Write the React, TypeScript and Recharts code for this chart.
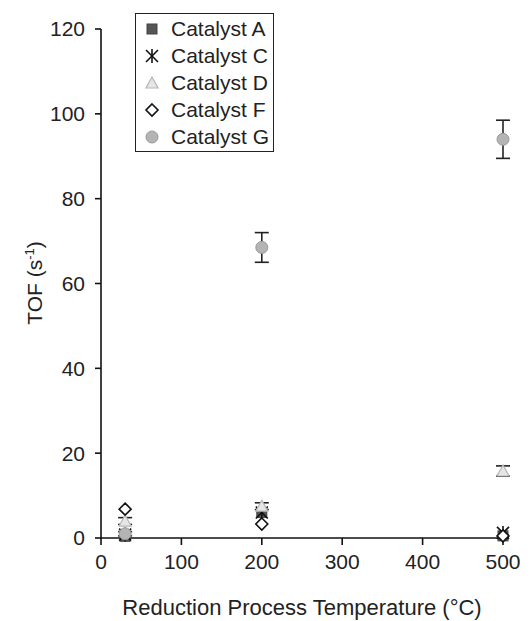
import React from "react"
import { ScatterChart, Scatter, XAxis, YAxis, ErrorBar, Label } from "recharts"

// reduction temperatures (°C)
const temps = [30, 200, 500]

// TOF values (s^-1) per catalyst
const catA = [0.4, 6, 0.5]
const catC = [0.8, 6, 1.2]
const catD = [4, 7.5, 15.8]
const catDErr = [0.8, 0.8, 1.2]
const catF = [6.8, 3.3, 0.5]
const catG = [1, 68.5, 94]
const catGErr = [0.5, 3.5, 4.5]

const xTicks = [0, 100, 200, 300, 400, 500]
const yTicks = [0, 20, 40, 60, 80, 100, 120]

const FONT = "'Liberation Sans', Arial, sans-serif"

const toPoints = (vals: number[], errs?: number[]) =>
  temps.map((t, i) => ({ x: t, y: vals[i], err: errs ? errs[i] : 0 }))

const series = [
  { name: "Catalyst A", data: toPoints(catA), kind: "square" },
  { name: "Catalyst C", data: toPoints(catC), kind: "asterisk" },
  { name: "Catalyst D", data: toPoints(catD, catDErr), kind: "triangle" },
  { name: "Catalyst F", data: toPoints(catF), kind: "diamond" },
  { name: "Catalyst G", data: toPoints(catG, catGErr), kind: "circle" },
]

function Marker({ kind, cx, cy }: { kind: string; cx: number; cy: number }) {
  if (cx == null || cy == null) return null
  switch (kind) {
    case "square":
      return <rect x={cx - 5} y={cy - 5} width={10} height={10} fill="#555" stroke="#444" />
    case "asterisk":
      return (
        <g stroke="#111" strokeWidth={1.6}>
          <line x1={cx} y1={cy - 7} x2={cx} y2={cy + 7} />
          <line x1={cx - 6} y1={cy - 6} x2={cx + 6} y2={cy + 6} />
          <line x1={cx + 6} y1={cy - 6} x2={cx - 6} y2={cy + 6} />
        </g>
      )
    case "triangle":
      return (
        <polygon
          points={`${cx},${cy - 6} ${cx + 6},${cy + 5} ${cx - 6},${cy + 5}`}
          fill="#e6e6e6"
          stroke="#b5b5b5"
          strokeWidth={1.2}
        />
      )
    case "diamond":
      return (
        <polygon
          points={`${cx},${cy - 6} ${cx + 6},${cy} ${cx},${cy + 6} ${cx - 6},${cy}`}
          fill="#fff"
          stroke="#111"
          strokeWidth={1.6}
        />
      )
    default:
      return <circle cx={cx} cy={cy} r={6} fill="#b4b4b4" stroke="#999" strokeWidth={1} />
  }
}

function LegendBox() {
  return (
    <div
      style={{
        position: "absolute",
        left: 135,
        top: 13,
        border: "1.5px solid #222",
        width: 139,
        height: 139,
        background: "#fff",
        fontFamily: FONT,
        fontSize: 21,
        color: "#222",
        boxSizing: "border-box",
        paddingTop: 1,
        whiteSpace: "nowrap",
      }}
    >
      {series.map((s) => (
        <div key={s.name} style={{ display: "flex", alignItems: "center", height: 27 }}>
          <svg width={35} height={20} style={{ flexShrink: 0 }}>
            <Marker kind={s.kind} cx={16} cy={10} />
          </svg>
          <span>{s.name}</span>
        </div>
      ))}
    </div>
  )
}

function YLabel() {
  return (
    <text
      x={42}
      y={283}
      transform="rotate(-90 42 283)"
      textAnchor="middle"
      fontFamily={FONT}
      fontSize={21}
      fill="#222"
    >
      TOF (s
      <tspan dy={-8} fontSize={13}>-1</tspan>
      <tspan dy={8}>)</tspan>
    </text>
  )
}

export default function App() {
  const tickStyle = { fontFamily: FONT, fontSize: 21, fill: "#222" }
  return (
    <div style={{ position: "absolute", left: 0, top: 0, width: 530, height: 621, background: "#fff" }}>
      <ScatterChart width={530} height={621} margin={{ top: 29, right: 27, bottom: 0, left: 0 }}>
        <XAxis
          type="number"
          dataKey="x"
          domain={[0, 500]}
          ticks={xTicks}
          interval={0}
          height={83}
          tickSize={7}
          tickMargin={9}
          stroke="#111"
          strokeWidth={1.6}
          tick={tickStyle}
        >
          <Label
            value="Reduction Process Temperature (°C)"
            position="insideBottom"
            offset={6}
            style={{ fontFamily: FONT, fontSize: 22, fill: "#222" }}
          />
        </XAxis>
        <YAxis
          type="number"
          dataKey="y"
          domain={[0, 120]}
          ticks={yTicks}
          interval={0}
          width={101}
          tickSize={6}
          tickMargin={10}
          stroke="#111"
          strokeWidth={1.6}
          tick={tickStyle}
        >
          <Label content={<YLabel />} />
        </YAxis>
        {series.map((s) => (
          <Scatter
            key={s.name}
            name={s.name}
            data={s.data}
            isAnimationActive={false}
            shape={(p: any) => <Marker kind={s.kind} cx={p.cx} cy={p.cy} />}
          >
            {(s.kind === "triangle" || s.kind === "circle") && (
              <ErrorBar dataKey="err" direction="y" width={7} stroke="#222" strokeWidth={1.6} />
            )}
          </Scatter>
        ))}
      </ScatterChart>
      <LegendBox />
    </div>
  )
}
